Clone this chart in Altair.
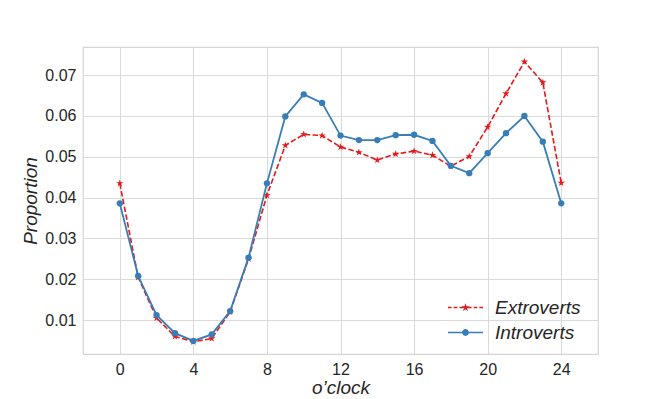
import math
import altair as alt
import pandas as pd

# ---------------- data ----------------
hours = list(range(25))
extroverts = [0.0435, 0.0205, 0.0105, 0.0060, 0.0047, 0.0055, 0.0120, 0.0250,
              0.0406, 0.0528, 0.0555, 0.0552, 0.0524, 0.0511, 0.0492, 0.0507,
              0.0514, 0.0504, 0.0477, 0.0501, 0.0573, 0.0655, 0.0733, 0.0682,
              0.0436]
introverts = [0.0386, 0.0208, 0.0112, 0.0068, 0.0049, 0.0065, 0.0122, 0.0253,
              0.0435, 0.0599, 0.0653, 0.0632, 0.0552, 0.0541, 0.0541, 0.0553,
              0.0554, 0.0539, 0.0478, 0.0460, 0.0509, 0.0558, 0.0600, 0.0537,
              0.0386]
series_names = ["Extroverts", "Introverts"]
x_ticks = [0, 4, 8, 12, 16, 20, 24]
y_ticks = [0.01, 0.02, 0.03, 0.04, 0.05, 0.06, 0.07]

df = pd.DataFrame({
    "hour": hours * 2,
    "proportion": extroverts + introverts,
    "series": [series_names[0]] * len(hours) + [series_names[1]] * len(hours),
})

RED = "#e41a1c"
BLUE = "#377eb8"
FONT = "Liberation Sans"
TEXT = "#262626"


# ---------------- marker paths ----------------
def fmt(v):
    return f"{v:.3f}".rstrip("0").rstrip(".")


def star(ro=1.0, ri=0.38):
    pts = []
    for k in range(10):
        r = ro if k % 2 == 0 else ri
        a = math.radians(-90 + 36 * k)
        pts.append((r * math.cos(a), r * math.sin(a)))
    return "M" + " L".join(f"{fmt(x)},{fmt(y)}" for x, y in pts) + " Z"


def circle(r):
    return (f"M{fmt(-r)},0 A{fmt(r)},{fmt(r)} 0 1,1 {fmt(r)},0 "
            f"A{fmt(r)},{fmt(r)} 0 1,1 {fmt(-r)},0 Z")


def rect(x0, x1, h):
    return (f"M{fmt(x0)},{fmt(-h)} L{fmt(x1)},{fmt(-h)} "
            f"L{fmt(x1)},{fmt(h)} L{fmt(x0)},{fmt(h)} Z")


STAR = star()
# legend symbols: line + marker in one path (unit = sqrt(size)/2 px)
L, H = 3.0, 0.14
dash, gap = 0.62, 0.36
segs = []
x = -L
while x < -0.5:
    segs.append((x, min(x + dash, -0.45)))
    x += dash + gap
leg_ext = " ".join(rect(a, b, H) for a, b in segs) + " " + \
    " ".join(rect(-b, -a, H) for a, b in segs) + " " + star(0.72, 0.28)
leg_int = rect(-L, -0.5, H) + " " + rect(0.5, L, H) + " " + circle(0.58)

# ---------------- encodings ----------------
color_scale = alt.Scale(domain=series_names, range=[RED, BLUE])
x_enc = alt.X("hour:Q", scale=alt.Scale(domain=[-2, 26], nice=False, zero=False),
              axis=alt.Axis(values=x_ticks, title="o\u2019clock", format="d"))
y_enc = alt.Y("proportion:Q", scale=alt.Scale(domain=[0.0017, 0.0769], nice=False, zero=False),
              axis=alt.Axis(values=y_ticks, title="Proportion", format=".2f"))

base = alt.Chart(df)
ext = base.transform_filter(alt.datum.series == series_names[0])
intro = base.transform_filter(alt.datum.series == series_names[1])

ext_line = ext.mark_line(color=RED, strokeWidth=1.6, strokeDash=[5.5, 2.4]).encode(x=x_enc, y=y_enc)
ext_pts = ext.mark_point(shape=STAR, filled=True, size=60, opacity=1, color=RED).encode(x=x_enc, y=y_enc)
int_line = intro.mark_line(color=BLUE, strokeWidth=1.8).encode(x=x_enc, y=y_enc)
int_pts = intro.mark_point(shape="circle", filled=True, size=40, opacity=1, color=BLUE).encode(x=x_enc, y=y_enc)

legend_props = dict(title=None, orient="none", legendX=373, legendY=251,
                    symbolSize=136, symbolOpacity=1, symbolStrokeWidth=0,
                    labelFont=FONT, labelFontSize=19, labelFontStyle="italic",
                    labelColor=TEXT, labelOffset=20, rowPadding=5, padding=0)
legend_layer = base.mark_point(filled=True, size=0).encode(
    x=x_enc, y=y_enc,
    color=alt.Color("series:N", scale=color_scale, legend=alt.Legend(**legend_props)),
    shape=alt.Shape("series:N", scale=alt.Scale(domain=series_names, range=[leg_ext, leg_int]),
                    legend=alt.Legend(**legend_props)),
)

chart = alt.layer(ext_line, ext_pts, int_line, int_pts, legend_layer).properties(
    width=515, height=307,
    autosize=alt.AutoSizeParams(type="none"),
    padding={"left": 75, "top": 39, "right": 58, "bottom": 45},
    background="white",
).configure_view(
    stroke="#d6d6d6", strokeWidth=1.25
).configure_axis(
    grid=True, gridColor="#dadada", gridWidth=1,
    domain=False, ticks=False,
    labelFont=FONT, labelFontSize=16, labelColor=TEXT,
    titleFont=FONT, titleFontSize=19, titleFontStyle="italic",
    titleFontWeight="normal", titleColor=TEXT,
).configure_axisX(
    labelPadding=7, titlePadding=1
).configure_axisY(
    labelPadding=7, titlePadding=4
)

chart.save("out.html", embed_options={"renderer": "svg", "actions": False})
